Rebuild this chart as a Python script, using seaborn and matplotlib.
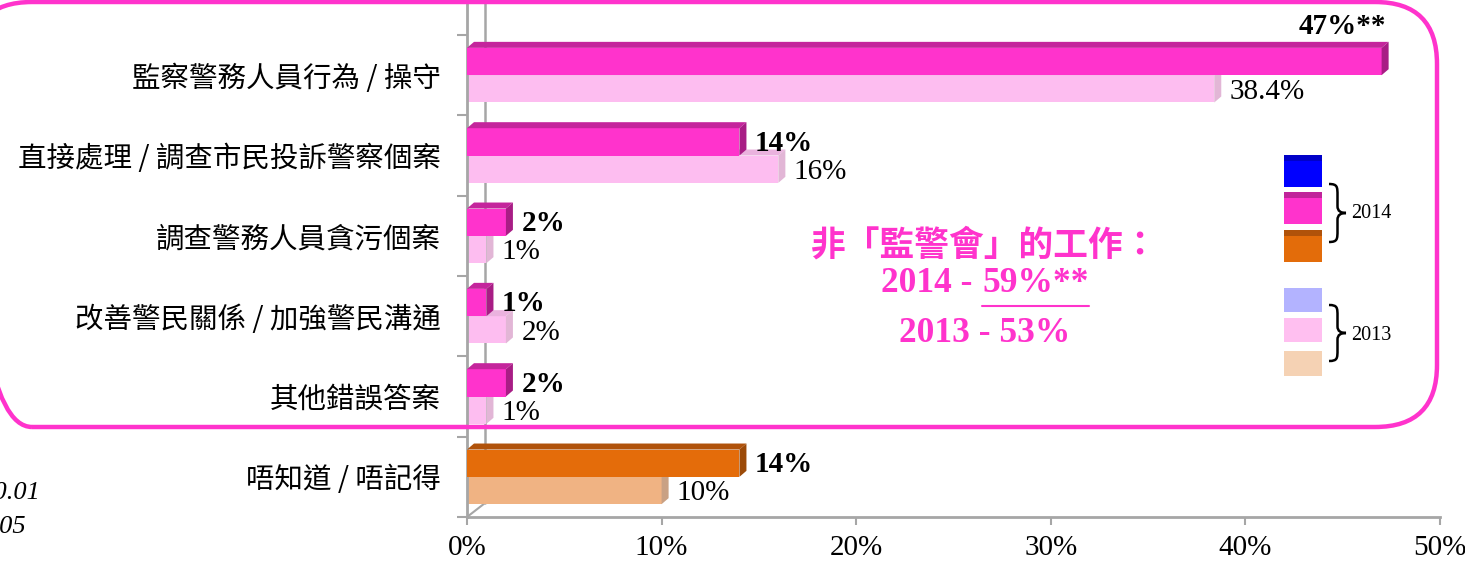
import numpy as np
import pandas as pd
import seaborn as sns
import matplotlib.pyplot as plt
from matplotlib.patches import Polygon, FancyBboxPatch, Rectangle, PathPatch
from matplotlib.path import Path
from matplotlib.lines import Line2D
from matplotlib.transforms import IdentityTransform

# --- datos ---
items = ['監察警務人員行為 / 操守', '直接處理 / 調查市民投訴警察個案', '調查警務人員貪污個案',
         '改善警民關係 / 加強警民溝通', '其他錯誤答案', '唔知道 / 唔記得']
pct_2014 = [47, 14, 2, 1, 2, 14]
pct_2013 = [38.4, 16, 1, 2, 1, 10]
labels_2014 = ['47%**', '14%', '2%', '1%', '2%', '14%']
labels_2013 = ['38.4%', '16%', '1%', '2%', '1%', '10%']
x_ticks = [0, 10, 20, 30, 40, 50]

df = pd.DataFrame({
    '項目': items * 2,
    '年份': ['2014'] * len(items) + ['2013'] * len(items),
    '百分比': pct_2014 + pct_2013,
})

sns.set_style('white')
plt.rcParams['font.family'] = ['Liberation Serif', 'Noto Sans CJK TC']
plt.rcParams['text.color'] = 'black'
plt.rcParams['xtick.labelcolor'] = 'black'
plt.rcParams['ytick.labelcolor'] = 'black'

W, H = 1465, 563
def fx(x):
    return x / W
def fy(y):
    return 1 - y / H

fig = plt.figure(figsize=(W / 100, H / 100), dpi=100)
ax = fig.add_axes([fx(467), fy(517), (1440 - 467) / W, 517 / H])

sns.barplot(data=df, y='項目', x='百分比', hue='年份', hue_order=['2014', '2013'],
            orient='h', width=0.68, saturation=1, errorbar=None, legend=False,
            palette=['#ff33cc', '#ffbdf0'], linewidth=0, ax=ax)

ax.set_xlim(0, 50)
ax.set_ylim(5.5, -0.5 - 35 / 80.33)

# colores tipo excel 3D (frente, arriba, lado)
front = {0: ['#ff33cc'] * 5 + ['#e46c0a'], 1: ['#fdbdf0'] * 5 + ['#f0b383']}
top = {0: ['#c4259c'] * 5 + ['#b0520a'], 1: ['#eab2de'] * 5 + ['#d9a27a']}
side = {0: ['#a81d85'] * 5 + ['#9c4a08'], 1: ['#e2b6d6'] * 5 + ['#c9a184']}

dx = 7 * 50 / 973
dy = 6 / 80.33
for k, cont in enumerate(ax.containers):
    z = 3 if k == 0 else 2
    for i, bar in enumerate(cont):
        x0, w = bar.get_x(), bar.get_width()
        y0, h = bar.get_y(), bar.get_height()
        bar.set_facecolor(front[k][i])
        bar.set_zorder(z)
        ax.add_patch(Polygon([(x0, y0), (x0 + w, y0), (x0 + w + dx, y0 - dy), (x0 + dx, y0 - dy)],
                             closed=True, color=top[k][i], lw=0, zorder=z))
        ax.add_patch(Polygon([(x0 + w, y0), (x0 + w + dx, y0 - dy), (x0 + w + dx, y0 + h - dy), (x0 + w, y0 + h)],
                             closed=True, color=side[k][i], lw=0, zorder=z))

# etiquetas de valores
for i, bar in enumerate(ax.containers[0]):
    v = bar.get_width()
    yc = bar.get_y() + bar.get_height() / 2
    if i == 0:
        ax.annotate(labels_2014[i], xy=(v + dx, bar.get_y()), xytext=(-2, 6), textcoords='offset points',
                    ha='right', va='bottom', fontsize=21, fontweight='bold', zorder=5)
    else:
        ax.annotate(labels_2014[i], xy=(v + dx, yc), xytext=(6, -1), textcoords='offset points',
                    ha='left', va='center', fontsize=21, fontweight='bold', zorder=5)
for i, bar in enumerate(ax.containers[1]):
    v = bar.get_width()
    yc = bar.get_y() + bar.get_height() / 2
    ax.annotate(labels_2013[i], xy=(v + dx, yc), xytext=(6, -2), textcoords='offset points',
                ha='left', va='center', fontsize=21, zorder=5)

# ejes
grey = '#a6a6a6'
for s in ['top', 'right']:
    ax.spines[s].set_visible(False)
for s in ['left', 'bottom']:
    ax.spines[s].set_color(grey)
    ax.spines[s].set_linewidth(2)
ax.set_xticks(x_ticks)
ax.set_xticklabels([f'{t}%' for t in x_ticks])
ax.tick_params(axis='x', bottom=True, length=6, width=1.5, color=grey, labelsize=21, pad=7)
ax.set_yticks(range(len(items)))
ax.set_yticklabels(items, fontsize=20.5, family=['Noto Sans CJK TC'])
ax.set_yticks(np.arange(-0.5, len(items), 1), minor=True)
ax.tick_params(axis='y', which='major', left=False, length=0, pad=19)
ax.tick_params(axis='y', which='minor', left=True, length=7, width=1.5, color=grey)
ax.set_xlabel('')
ax.set_ylabel('')

# pared del fondo 3D
ax.add_line(Line2D([0.0185, 0.0185], [0.027, 1], transform=ax.transAxes, color=grey, lw=1.8, zorder=1))
ax.add_line(Line2D([0, 0.0185], [0, 0.027], transform=ax.transAxes, color=grey, lw=1.5, zorder=1))

# caja rosada
box = FancyBboxPatch((-30, H - 427), 1437 + 30, 425, boxstyle='round,pad=0,rounding_size=62',
                     transform=IdentityTransform(), fill=False, ec='#ff33cc', lw=3.2, zorder=10)
fig.add_artist(box)

# leyenda manual
def rect_px(x0, y0, x1, y1, color):
    fig.add_artist(Rectangle((x0, H - y1), x1 - x0, y1 - y0, transform=IdentityTransform(),
                             color=color, lw=0))

leg_dark = [('#0000ff', '#0000c8', 155, 187), ('#ff33cc', '#c0249a', 192, 224), ('#e36c0a', '#b0520a', 230, 262)]
for c, ct, a, b in leg_dark:
    rect_px(1284, a, 1322, b, c)
    rect_px(1284, a, 1322, a + 6, ct)
for c, a, b in [('#b3b3ff', 288, 312), ('#ffbff0', 318, 342), ('#f5d2b4', 351, 376)]:
    rect_px(1284, a, 1322, b, c)

def brace(x0, ytop, ybot, w):
    hh = ybot - ytop
    pts = [(0, 0), (0.5, 0), (0.5, 0.05), (0.5, 0.2), (0.5, 0.38), (0.5, 0.47), (0.7, 0.5), (1.0, 0.5),
           (0.7, 0.5), (0.5, 0.53), (0.5, 0.62), (0.5, 0.8), (0.5, 0.95), (0.5, 1.0), (0, 1)]
    codes = [Path.MOVETO, Path.CURVE4, Path.CURVE4, Path.CURVE4, Path.LINETO, Path.CURVE4, Path.CURVE4,
             Path.CURVE4, Path.CURVE4, Path.CURVE4, Path.CURVE4, Path.LINETO, Path.CURVE4, Path.CURVE4, Path.CURVE4]
    verts = [(x0 + u * w, H - (ytop + v * hh)) for u, v in pts]
    fig.add_artist(PathPatch(Path(verts, codes), transform=IdentityTransform(), fill=False, lw=1.8, ec='black'))

brace(1329, 184, 242, 17)
brace(1329, 305, 361, 17)
fig.text(fx(1351), fy(213), '2014', ha='left', va='center', fontsize=14.5)
fig.text(fx(1351), fy(335), '2013', ha='left', va='center', fontsize=14.5)

# texto destacado
mag = '#ff33cc'
fig.text(fx(985), fy(245), '非「監警會」的工作：', ha='center', va='center', fontsize=25,
         color=mag, fontweight='bold', family=['Noto Sans CJK TC'])
fig.text(fx(972), fy(284), '2014 -', ha='right', va='center', fontsize=25.5, color=mag, fontweight='bold')
t59 = fig.text(fx(982), fy(284), '59%**', ha='left', va='center', fontsize=25.5, color=mag, fontweight='bold')
fig.text(fx(985), fy(334), '2013 - 53%', ha='center', va='center', fontsize=25.5, color=mag, fontweight='bold')
fig.canvas.draw()
bb = t59.get_window_extent()
fig.add_artist(Line2D([bb.x0, bb.x1], [H - 306, H - 306], transform=IdentityTransform(), color=mag, lw=1.5))

# notas al pie (cortadas en el borde como en el original)
fig.text(fx(40), fy(493), '**p<0.01', ha='right', va='center', fontsize=19, style='italic')
fig.text(fx(26), fy(527), '*p<0.05', ha='right', va='center', fontsize=19, style='italic')

fig.savefig('out.png', dpi=100)
